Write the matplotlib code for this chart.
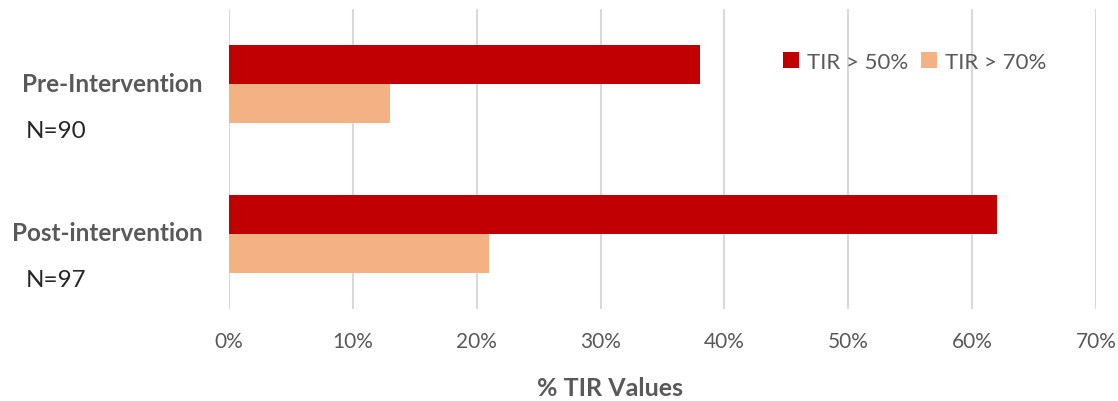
import matplotlib
matplotlib.use("Agg")
import matplotlib.pyplot as plt
from matplotlib.ticker import PercentFormatter
import numpy as np

plt.rcParams['font.family'] = ['Lato', 'DejaVu Sans']

groups = ["Pre-Intervention", "Post-intervention"]
counts = ["N=90", "N=97"]
tir_50 = [38, 62]
tir_70 = [13, 21]
series_names = ["TIR > 50%", "TIR > 70%"]
x_ticks = [0, 10, 20, 30, 40, 50, 60, 70]

RED = "#C00000"
PEACH = "#F4B183"
GRAY = "#595959"

fig = plt.figure(figsize=(11.18, 4.02), dpi=100)
ax = fig.add_axes([229 / 1118, 1 - 310 / 402, (1096 - 229) / 1118, 300 / 402])

pos = np.arange(len(groups))
h = 0.26
ax.barh(pos - h / 2, tir_50, height=h, color=RED, label=series_names[0], zorder=3)
ax.barh(pos + h / 2, tir_70, height=h, color=PEACH, label=series_names[1], zorder=3)

ax.set_ylim(len(groups) - 0.5, -0.5)
ax.set_xlim(0, 70)
ax.set_xticks(x_ticks)
ax.xaxis.set_major_formatter(PercentFormatter(decimals=0))
ax.tick_params(axis='x', length=0, pad=16, labelsize=15, labelcolor=GRAY)
ax.set_yticks([])
ax.grid(axis='x', color="#D9D9D9", linewidth=1.5, zorder=0)
for s in ax.spines.values():
    s.set_visible(False)

# category labels and sample sizes to the left of the bars
for i, (g, n) in enumerate(zip(groups, counts)):
    y_px = ax.transData.transform((0, i))[1]
    fig.text(203 / 1118, (y_px + 1) / 402, g, ha='right', va='center',
             fontsize=17.5, fontweight='bold', color=GRAY)
    fig.text(26 / 1118, (y_px - 46) / 402, n, ha='left', va='center',
             fontsize=17.5, color="#262626")

fig.text(610 / 1118, 1 - 389 / 402, "% TIR Values", ha='center', va='center',
         fontsize=18, fontweight='bold', color=GRAY)

leg = ax.legend(loc='upper right', bbox_to_anchor=(1066 / 1118, 1 - 33 / 402),
                bbox_transform=fig.transFigure, ncol=2, frameon=False,
                handlelength=0.7, handleheight=0.7, handletextpad=0.35,
                columnspacing=0.6, fontsize=16)
for t in leg.get_texts():
    t.set_color(GRAY)

fig.savefig("out.png", dpi=100, facecolor="white")
